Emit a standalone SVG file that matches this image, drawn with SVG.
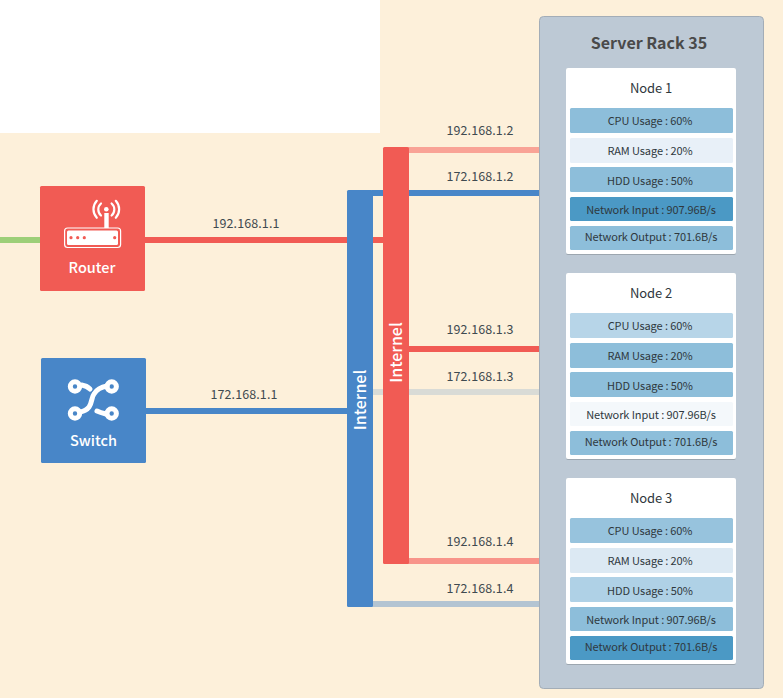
<svg xmlns="http://www.w3.org/2000/svg" width="783" height="698" viewBox="0 0 783 698">
<defs><filter id="sh" x="-5%" y="-5%" width="110%" height="110%"><feDropShadow dx="0" dy="0.5" stdDeviation="0.7" flood-color="#000" flood-opacity="0.35"/></filter></defs>
<style>
text{font-family:"Noto Sans CJK SC","Noto Sans",sans-serif;text-anchor:middle}
.ip{font-size:12.5px;fill:#3f4a50;font-weight:400;letter-spacing:.1px}
.bar{font-size:11px;fill:#2f383d;font-weight:400;letter-spacing:-.1px}
.nt{font-size:13px;fill:#2f383d;font-weight:400;letter-spacing:-.1px}
.lbl{font-size:14.500px;fill:#fff;font-weight:500}
.int{font-size:16px;fill:#fff;font-weight:500}
.nodebox{fill:#fff;filter:url(#sh)}
.sw{fill:none;stroke:#fff;stroke-width:5;stroke-linecap:round}
</style>
<rect width="783" height="698" fill="#fdf0da"/>
<rect width="380" height="133" fill="#fff"/>
<g id="connectors">
<rect x="0" y="237" width="41" height="6" fill="#9dcf78"/>
<rect x="144" y="237" width="240" height="6" fill="#f15b54"/>
<rect x="145" y="408" width="203" height="6" fill="#4886c8"/>
<rect x="408" y="147" width="132" height="6" fill="#f9a396"/>
<rect x="372" y="190" width="168" height="6" fill="#4886c8"/>
<rect x="408" y="346" width="132" height="6" fill="#f15b54"/>
<rect x="372" y="389" width="168" height="6" fill="#d9dbd6"/>
<rect x="408" y="558" width="132" height="6" fill="#f8948a"/>
<rect x="372" y="601" width="168" height="6" fill="#b3c4d2"/>
</g>
<g id="labels">
<text class="ip" x="246" y="228">192.168.1.1</text>
<text class="ip" x="244" y="399">172.168.1.1</text>
<text class="ip" x="480" y="135">192.168.1.2</text>
<text class="ip" x="480" y="181">172.168.1.2</text>
<text class="ip" x="480" y="334">192.168.1.3</text>
<text class="ip" x="480" y="381">172.168.1.3</text>
<text class="ip" x="480" y="546">192.168.1.4</text>
<text class="ip" x="480" y="593">172.168.1.4</text>
</g>
<g id="router">
<rect x="40" y="186" width="105" height="105" rx="1.500" fill="#f15b54"/>
<rect x="64.600" y="228" width="56" height="19.500" rx="3" fill="none" stroke="#fff" stroke-width="1.200"/>
<rect x="67" y="230.500" width="51" height="14.500" rx="1.500" fill="#fff"/>
<circle cx="71" cy="237.700" r="1.600" fill="#f15b54"/><circle cx="77.700" cy="237.700" r="1.600" fill="#f15b54"/><circle cx="84.300" cy="237.700" r="1.600" fill="#f15b54"/><circle cx="114.700" cy="237.700" r="1.600" fill="#f15b54"/>
<rect x="104.300" y="213" width="4.400" height="15" fill="#fff"/>
<circle cx="106.300" cy="209.300" r="2.300" fill="#fff"/>
<path d="M101 203.500a8 8 0 0 0 0 12M111.600 203.500a8 8 0 0 1 0 12M96.800 200.800a12.500 12.500 0 0 0 0 17M115.800 200.800a12.500 12.500 0 0 1 0 17" fill="none" stroke="#fff" stroke-width="2.200" stroke-linecap="round"/>
<text class="lbl" x="92" y="273">Router</text>
</g>
<g id="switch">
<rect x="41" y="358" width="105" height="105" rx="1.500" fill="#4886c8"/>
<circle cx="75" cy="386.500" r="4.700" fill="none" stroke="#fff" stroke-width="5"/>
<circle cx="111.700" cy="386.500" r="4.700" fill="none" stroke="#fff" stroke-width="5"/>
<circle cx="75" cy="413.500" r="4.700" fill="none" stroke="#fff" stroke-width="5"/>
<circle cx="111.700" cy="413.500" r="4.700" fill="none" stroke="#fff" stroke-width="5"/>
<path class="sw" d="M80 412C94 409 90 399 94 394C97 389 101 387 107 386"/>
<path class="sw" d="M81.700 385C85 385.500 88 387 90 389M97 411C99 412 102 413 106 414"/>
<text class="lbl" x="93.500" y="446">Switch</text>
</g>
<g id="internet-blue">
<rect x="347" y="190" width="26" height="417" rx="1.500" fill="#4886c8"/>
<text class="int" transform="translate(365.500 400) rotate(-90)">Internel</text>
</g>
<g id="internet-red">
<rect x="383" y="147" width="26" height="417" rx="1.500" fill="#f15b54"/>
<text class="int" transform="translate(401.500 352.500) rotate(-90)">Internel</text>
</g>
<g id="rack">
<rect x="539.500" y="16.500" width="224" height="672" rx="4" fill="#bdc9d5" stroke="#a3adb7"/>
<text x="649" y="49" font-size="16" font-weight="700" fill="#4a4a4a">Server Rack 35</text>
</g>
<g id="node1">
<rect class="nodebox" x="566" y="68" width="170" height="186" rx="2"/>
<text class="nt" x="651" y="93">Node 1</text>
<rect x="570" y="108" width="163" height="25" rx="1.500" fill="#8dbeda"/><text class="bar" x="650" y="125">CPU Usage : 60%</text>
<rect x="570" y="138" width="163" height="25" rx="1.500" fill="#e8f0f8"/><text class="bar" x="650" y="155">RAM Usage : 20%</text>
<rect x="570" y="167" width="163" height="25" rx="1.500" fill="#8dbeda"/><text class="bar" x="650" y="185">HDD Usage : 50%</text>
<rect x="570" y="197" width="163" height="24" rx="1.500" fill="#4b99c5"/><text class="bar" x="651" y="214">Network Input : 907.96B/s</text>
<rect x="570" y="226" width="163" height="24" rx="1.500" fill="#8dbeda"/><text class="bar" x="651" y="241">Network Output : 701.6B/s</text>
</g>
<g id="node2">
<rect class="nodebox" x="566" y="273" width="170" height="186" rx="2"/>
<text class="nt" x="651" y="298">Node 2</text>
<rect x="570" y="313" width="163" height="25" rx="1.500" fill="#b7d5e8"/><text class="bar" x="650" y="330">CPU Usage : 60%</text>
<rect x="570" y="343" width="163" height="25" rx="1.500" fill="#8dbeda"/><text class="bar" x="650" y="360">RAM Usage : 20%</text>
<rect x="570" y="372" width="163" height="25" rx="1.500" fill="#8dbeda"/><text class="bar" x="650" y="390">HDD Usage : 50%</text>
<rect x="570" y="402" width="163" height="24" rx="1.500" fill="#f4f8fb"/><text class="bar" x="651" y="419">Network Input : 907.96B/s</text>
<rect x="570" y="431" width="163" height="24" rx="1.500" fill="#8dbeda"/><text class="bar" x="651" y="446">Network Output : 701.6B/s</text>
</g>
<g id="node3">
<rect class="nodebox" x="566" y="478" width="170" height="186" rx="2"/>
<text class="nt" x="651" y="503">Node 3</text>
<rect x="570" y="518" width="163" height="25" rx="1.500" fill="#97c3dd"/><text class="bar" x="650" y="535">CPU Usage : 60%</text>
<rect x="570" y="548" width="163" height="25" rx="1.500" fill="#dce9f3"/><text class="bar" x="650" y="565">RAM Usage : 20%</text>
<rect x="570" y="577" width="163" height="25" rx="1.500" fill="#afd1e6"/><text class="bar" x="650" y="595">HDD Usage : 50%</text>
<rect x="570" y="607" width="163" height="24" rx="1.500" fill="#8dbeda"/><text class="bar" x="651" y="624">Network Input : 907.96B/s</text>
<rect x="570" y="636" width="163" height="24" rx="1.500" fill="#4b99c5"/><text class="bar" x="651" y="651">Network Output : 701.6B/s</text>
</g>
</svg>
